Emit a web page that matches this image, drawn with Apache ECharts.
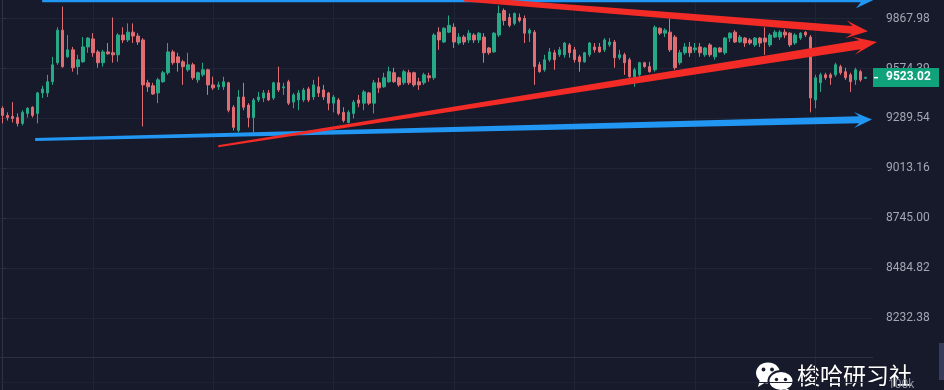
<!DOCTYPE html>
<html><head><meta charset="utf-8">
<script src="https://cdn.jsdelivr.net/npm/echarts@6/dist/echarts.min.js"></script>
<style>html,body{margin:0;padding:0;background:#161a2b;}#c{width:944px;height:390px;}</style>
</head><body><div id="c"></div>
<script>
// ---- data ----
const opens = [9347,9307,9301,9295,9262,9318,9353,9318,9434,9434,
9498,9608,9799,9642,9683,9585,9613,9700,9747,9671,
9608,9671,9666,9654,9770,9741,9787,9764,9741,9492,
9475,9434,9498,9550,9671,9642,9613,9567,9596,9509,
9538,9567,9480,9469,9469,9492,9353,9223,9411,9365,
9295,9394,9405,9434,9405,9492,9463,9498,9382,9394,
9394,9457,9411,9469,9451,9434,9376,9394,9324,9267,
9318,9394,9376,9434,9376,9492,9469,9498,9550,9521,
9492,9550,9550,9498,9492,9532,9521,9787,9729,9787,
9816,9723,9758,9741,9770,9741,9758,9694,9671,9770,
9916,9874,9839,9874,9868,9781,9787,9596,9567,9625,
9666,9654,9654,9712,9683,9642,9613,9654,9700,9700,
9683,9712,9729,9637,9654,9625,9527,9538,9608,9585,
9567,9810,9781,9787,9758,9608,9666,9700,9683,9700,
9654,9712,9642,9694,9666,9752,9787,9729,9752,9741,
9712,9752,9752,9712,9758,9758,9787,9781,9723,9752,
9787,9758,9394,9492,9538,9538,9538,9585,9556,9538,
9509,9556,9518];
const closes = [9307,9295,9290,9262,9324,9347,9307,9434,9457,9498,
9596,9799,9585,9683,9579,9625,9700,9752,9666,9608,
9671,9660,9654,9770,9741,9787,9764,9729,9480,9469,
9428,9509,9550,9671,9608,9608,9585,9596,9521,9550,
9567,9480,9463,9480,9498,9336,9240,9411,9353,9295,
9394,9411,9434,9394,9492,9451,9469,9376,9423,9434,
9451,9394,9480,9434,9411,9376,9411,9318,9278,9324,
9382,9376,9440,9376,9492,9463,9521,9556,9498,9480,
9556,9492,9480,9480,9538,9521,9770,9741,9810,9827,
9729,9758,9729,9781,9741,9781,9666,9666,9781,9898,
9856,9827,9898,9856,9781,9799,9585,9556,9625,9671,
9625,9683,9723,9666,9625,9613,9666,9723,9683,9671,
9741,9729,9637,9654,9608,9527,9567,9608,9585,9556,
9816,9781,9799,9683,9579,9666,9700,9666,9694,9666,
9694,9654,9694,9671,9752,9781,9729,9758,9723,9723,
9752,9723,9729,9770,9787,9787,9770,9712,9770,9781,
9770,9405,9521,9538,9521,9521,9596,9550,9521,9498,
9567,9509,9523.02];
const lows = [9262,9278,9267,9245,9251,9295,9295,9262,9405,9411,
9480,9596,9579,9637,9556,9538,9608,9666,9642,9579,
9585,9654,9608,9613,9723,9729,9723,9712,9245,9440,
9423,9376,9492,9538,9596,9556,9480,9556,9509,9492,
9527,9423,9451,9451,9451,9324,9223,9212,9336,9240,
9212,9382,9382,9388,9394,9440,9423,9365,9347,9336,
9382,9382,9394,9411,9394,9336,9324,9307,9267,9262,
9290,9353,9336,9365,9318,9434,9463,9492,9492,9469,
9480,9480,9469,9451,9480,9498,9509,9683,9723,9781,
9694,9712,9712,9723,9723,9723,9608,9654,9666,9758,
9827,9816,9827,9845,9723,9729,9480,9550,9556,9613,
9567,9642,9637,9637,9608,9556,9608,9642,9666,9666,
9671,9700,9579,9625,9538,9521,9469,9527,9579,9550,
9556,9770,9758,9671,9567,9596,9654,9642,9666,9642,
9642,9642,9625,9666,9654,9729,9723,9723,9700,9712,
9700,9700,9654,9700,9752,9741,9752,9700,9712,9741,
9758,9324,9347,9440,9509,9480,9527,9538,9509,9440,
9480,9498,9515];
const highs = [9359,9324,9382,9318,9336,9353,9359,9440,9475,9538,
9642,9816,9939,9770,9700,9654,9758,9758,9781,9683,
9683,9723,9874,9781,9816,9839,9839,9781,9752,9509,
9492,9521,9561,9723,9683,9666,9625,9666,9608,9556,
9608,9573,9527,9498,9527,9498,9365,9451,9492,9376,
9405,9440,9451,9451,9498,9585,9492,9509,9434,9451,
9463,9469,9509,9527,9480,9440,9423,9405,9353,9336,
9394,9423,9451,9440,9509,9521,9550,9585,9579,9527,
9567,9567,9556,9521,9550,9550,9781,9816,9816,9886,
9839,9781,9770,9799,9781,9787,9781,9700,9787,9945,
9928,9898,9904,9898,9886,9810,9799,9613,9654,9694,
9683,9700,9729,9723,9700,9654,9671,9729,9723,9723,
9752,9752,9741,9683,9666,9637,9579,9613,9613,9613,
9827,9816,9810,9868,9770,9683,9723,9729,9723,9723,
9700,9723,9700,9700,9758,9787,9799,9770,9758,9752,
9758,9758,9816,9781,9799,9799,9804,9787,9781,9787,
9793,9770,9538,9550,9550,9550,9608,9596,9579,9550,
9579,9567,9527];
const tickValues = [8232.38, 8484.82, 8745.00, 9013.16, 9289.54, 9574.39, 9867.98];
const tickLabels = ['8232.38','8484.82','8745.00','9013.16','9289.54','9574.39','9867.98'];
const lastPrice = 9523.02;
const slotCount = 174;              // candle slots incl. empty right margin
const timeGridIdx = [18, 42, 66, 90, 114, 138, 162];
// drawn trend arrows: [start index, start price, end index, end price]
const trendLines = [
  [7.9, 9978, 173.5, 9978],
  [6.5, 9173, 173.3, 9284],
  [43.0, 9135, 174.3, 9729],
  [92.0, 9985, 172.5, 9793]
];
const trendStyles = [
  {color:'#2196f3', w0:4, w1:4, head:17, half:8},
  {color:'#2196f3', w0:3, w1:7, head:18, half:8},
  {color:'#f22b27', w0:2, w1:9, head:24, half:9},
  {color:'#f22b27', w0:5, w1:8, head:22, half:9}
];

// ---- build ----
const categories = [];
for (let i = 0; i < slotCount; i++) categories.push(String(i));
const candleData = opens.map((o, i) => [o, closes[i], lows[i], highs[i]]);

function nearestLabel(v) {
  let best = 0, bd = Infinity;
  tickValues.forEach((t, i) => { const d = Math.abs(t - v); if (d < bd) { bd = d; best = i; } });
  return bd < 1 ? tickLabels[best] : '';
}

function renderArrow(params, api) {
  const s = trendStyles[params.dataIndex];
  const a = api.coord([api.value(0), api.value(1)]);
  const b = api.coord([api.value(2), api.value(3)]);
  const dx = b[0] - a[0], dy = b[1] - a[1];
  const len = Math.sqrt(dx * dx + dy * dy);
  const ux = dx / len, uy = dy / len, nx = -uy, ny = ux;
  const L = s.head, H = s.half, notch = L * 0.72;
  const sx = b[0] - ux * notch, sy = b[1] - uy * notch;
  const hx = b[0] - ux * L, hy = b[1] - uy * L;
  const pts = [
    [a[0] + nx * s.w0 / 2, a[1] + ny * s.w0 / 2],
    [sx + nx * s.w1 / 2, sy + ny * s.w1 / 2],
    [hx + nx * H, hy + ny * H],
    [b[0], b[1]],
    [hx - nx * H, hy - ny * H],
    [sx - nx * s.w1 / 2, sy - ny * s.w1 / 2],
    [a[0] - nx * s.w0 / 2, a[1] - ny * s.w0 / 2]
  ];
  return {type: 'polygon', shape: {points: pts}, style: {fill: s.color}};
}

// last-price badge on the price scale, positioned through the axes
function renderBadge(params, api) {
  const p = api.coord([api.value(0), api.value(1)]);
  const txt = lastPrice.toFixed(2);
  return {
    type: 'group',
    children: [
      {type: 'rect', shape: {x: p[0], y: p[1] - 9.5, width: 66, height: 19}, style: {fill: '#10a27b'}},
      {type: 'rect', shape: {x: p[0] + 1, y: p[1] - 0.5, width: 4, height: 1.5}, style: {fill: '#ffffff'}},
      {type: 'text', x: p[0] + 13, y: p[1], style: {text: txt, fill: '#ffffff',
        font: 'bold 12px Roboto, Arial, sans-serif', textVerticalAlign: 'middle', verticalAlign: 'middle'}}
    ]
  };
}

const fontStack = 'Roboto, Arial, sans-serif';
const chart = echarts.init(document.getElementById('c'), null, {renderer: 'canvas'});
chart.setOption({
  backgroundColor: '#161a2b',
  animation: false,
  grid: {left: 0, right: 71, top: 0, bottom: 0},
  xAxis: [
    {type: 'category', data: categories, boundaryGap: true,
     axisLine: {show: false}, axisTick: {show: false}, axisLabel: {show: false}, splitLine: {show: false}},
    {type: 'value', min: -0.5, max: slotCount - 0.5,
     axisLine: {show: false}, axisLabel: {show: false},
     axisTick: {show: false, customValues: timeGridIdx},
     splitLine: {show: true, lineStyle: {color: '#1f2437', width: 1}}}
  ],
  yAxis: {
    type: 'log', logBase: 10, position: 'right', min: 7884, max: 9979, scale: true,
    axisLine: {show: true, lineStyle: {color: '#2d3245'}},
    axisTick: {show: true, length: 4, inside: false, lineStyle: {color: '#2d3245'}, customValues: tickValues},
    axisLabel: {customValues: tickValues, formatter: nearestLabel, margin: 13,
      color: '#a3a6b3', fontSize: 12, fontFamily: fontStack},
    splitLine: {show: true, lineStyle: {color: '#1f2437', width: 1}}
  },
  series: [
    {
      type: 'candlestick', xAxisIndex: 0, yAxisIndex: 0, data: candleData, barWidth: 3, z: 3,
      itemStyle: {color: '#27a887', color0: '#df6d72', borderColor: '#27a887', borderColor0: '#df6d72', borderWidth: 1}
    },
    {
      type: 'custom', xAxisIndex: 1, yAxisIndex: 0, z: 6, clip: false, silent: true,
      renderItem: renderArrow,
      encode: {x: [0, 2], y: [1, 3]},
      data: trendLines
    },
    {
      type: 'custom', xAxisIndex: 1, yAxisIndex: 0, z: 9, clip: false, silent: true,
      renderItem: renderBadge,
      encode: {x: 0, y: 1},
      data: [[slotCount - 0.5, lastPrice]]
    }
  ],
  graphic: [
    {type: 'line', z: 1, shape: {x1: 0, y1: 357.5, x2: 873, y2: 357.5}, style: {stroke: '#2b3043', lineWidth: 1}},
    {type: 'line', z: 1, shape: {x1: 0, y1: 382.5, x2: 873, y2: 382.5}, style: {stroke: '#1c2133', lineWidth: 1}},
    {type: 'rect', z: 1, shape: {x: 939, y: 343, width: 5, height: 37}, style: {fill: '#363c5a'}},
    {type: 'text', z: 10, x: 888, y: 379, style: {text: '100k', fill: '#8d91a0', font: '12px Roboto, Arial, sans-serif'}},
    {type: 'group', z: 20, children: [
      {type: 'ellipse', shape: {cx: 768, cy: 373, rx: 12, ry: 10.5}, style: {fill: '#ffffff'}},
      {type: 'polygon', shape: {points: [[760, 379], [758, 387], [766, 382]]}, style: {fill: '#ffffff'}},
      {type: 'circle', shape: {cx: 763.5, cy: 369.5, r: 1.9}, style: {fill: '#161a2b'}},
      {type: 'circle', shape: {cx: 772, cy: 369.5, r: 1.9}, style: {fill: '#161a2b'}},
      {type: 'ellipse', shape: {cx: 781, cy: 381, rx: 12.5, ry: 10}, style: {fill: '#ffffff', stroke: '#161a2b', lineWidth: 2}},
      {type: 'polygon', shape: {points: [[786, 388], [791, 391], [783, 389]]}, style: {fill: '#ffffff'}},
      {type: 'circle', shape: {cx: 776.5, cy: 379.5, r: 1.7}, style: {fill: '#161a2b'}},
      {type: 'circle', shape: {cx: 785.5, cy: 379.5, r: 1.7}, style: {fill: '#161a2b'}},
      {type: 'text', x: 797, y: 364, style: {text: '梭哈研习社', fill: '#ffffff',
        font: '23px "Noto Sans CJK SC", sans-serif', textShadowColor: 'rgba(0,0,0,0.4)', textShadowBlur: 2}}
    ]}
  ]
});
</script></body></html>
